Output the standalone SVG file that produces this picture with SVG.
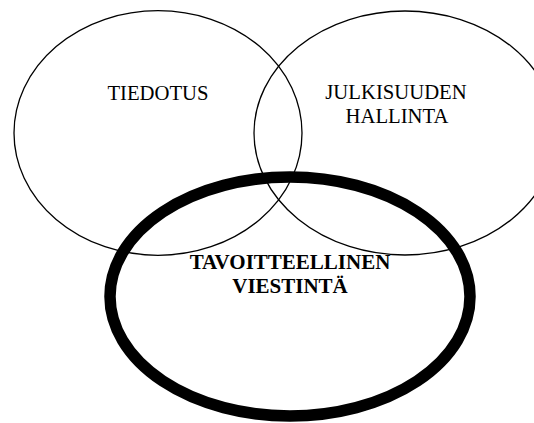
<svg xmlns="http://www.w3.org/2000/svg" width="534" height="423" viewBox="0 0 534 423">
<style>
.thin{fill:none;stroke:#000;stroke-width:1.3}
.thick{fill:none;stroke:#000;stroke-width:11.5}
.lbl{font-family:"Liberation Serif","Times New Roman",serif;font-size:20.7px;fill:#000;text-anchor:middle}
.b{font-weight:bold;font-size:21px}
</style>
<rect width="534" height="423" fill="#fff"/>
<g id="tiedotus">
<ellipse class="thin" cx="158" cy="133" rx="144" ry="122.3"/>
<text class="lbl" x="158" y="99.5">TIEDOTUS</text>
</g>
<g id="julkisuuden-hallinta">
<ellipse class="thin" cx="405" cy="133" rx="151" ry="122"/>
<text class="lbl" x="396" y="99">JULKISUUDEN</text>
<text class="lbl" x="397" y="123.3">HALLINTA</text>
</g>
<g id="tavoitteellinen-viestinta">
<ellipse class="thick" cx="290" cy="296.5" rx="180" ry="119.5"/>
<text class="lbl b" x="290" y="269.3">TAVOITTEELLINEN</text>
<text class="lbl b" x="290" y="293.3">VIESTINTÄ</text>
</g>
<g id="connectors"></g>
</svg>
